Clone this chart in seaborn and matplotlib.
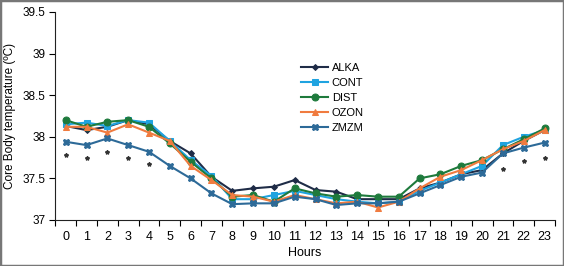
import pandas as pd
import numpy as np
import matplotlib.pyplot as plt
import seaborn as sns
from matplotlib.patches import Rectangle
from matplotlib.ticker import FixedLocator

# datos
hours = list(range(24))
alka = [38.13, 38.08, 38.12, 38.20, 38.15, 37.95, 37.80, 37.52, 37.35, 37.38, 37.40, 37.48,
        37.36, 37.34, 37.25, 37.25, 37.25, 37.38, 37.45, 37.55, 37.60, 37.80, 37.95, 38.08]
cont = [38.15, 38.17, 38.13, 38.20, 38.17, 37.95, 37.72, 37.53, 37.25, 37.25, 37.30, 37.35,
        37.30, 37.25, 37.22, 37.20, 37.22, 37.35, 37.45, 37.55, 37.65, 37.90, 38.00, 38.08]
dist = [38.20, 38.12, 38.18, 38.20, 38.12, 37.92, 37.70, 37.50, 37.28, 37.30, 37.22, 37.38,
        37.32, 37.28, 37.30, 37.28, 37.28, 37.50, 37.55, 37.65, 37.72, 37.85, 37.97, 38.10]
ozon = [38.12, 38.12, 38.05, 38.15, 38.05, 37.95, 37.65, 37.48, 37.30, 37.28, 37.22, 37.30,
        37.25, 37.20, 37.22, 37.15, 37.22, 37.38, 37.52, 37.60, 37.72, 37.85, 37.95, 38.08]
zmzm = [37.94, 37.90, 37.98, 37.90, 37.82, 37.65, 37.50, 37.32, 37.19, 37.20, 37.20, 37.28,
        37.25, 37.18, 37.20, 37.20, 37.22, 37.32, 37.42, 37.52, 37.57, 37.80, 37.87, 37.93]
sig_hours = [0, 1, 2, 3, 4, 21, 22, 23]
sig_vals = [37.78, 37.75, 37.82, 37.75, 37.67, 37.61, 37.71, 37.74]

groups = ['ALKA', 'CONT', 'DIST', 'OZON', 'ZMZM']
series = [alka, cont, dist, ozon, zmzm]
colores = ['#1f2c47', '#1fa3e0', '#1e7a3c', '#f07b3f', '#2d6a98']
marcadores = ['D', 's', 'o', '^', 'X']
tam = [3, 5, 5, 5, 5]

df = pd.concat([pd.DataFrame({'hour': hours, 'temp': s, 'group': g})
                for g, s in zip(groups, series)])

plt.rcParams['font.family'] = ['Liberation Sans', 'DejaVu Sans']
fig = plt.figure(figsize=(5.64, 2.66), dpi=100)
ax = fig.add_axes([0.098, 0.173, 0.886, 0.782])

for g, c, m, ms in zip(groups, colores, marcadores, tam):
    sns.lineplot(data=df[df.group == g], x='hour', y='temp', color=c, marker=m,
                 markersize=ms, markeredgecolor=c, linewidth=1.5, label=g, ax=ax)

ax.plot(sig_hours, sig_vals, linestyle='none', marker='*', color='#333333', markersize=3)

ax.set_xlim(-0.5, 23.5)
ax.set_ylim(37, 39.5)
ax.set_xticks(hours)
ax.set_xticklabels([str(h) for h in hours], fontsize=9)
ax.xaxis.set_minor_locator(FixedLocator(np.arange(-0.5, 24, 1)))
ax.tick_params(axis='x', which='major', length=0, pad=8)
ax.tick_params(axis='x', which='minor', length=4, width=0.8, direction='out')
ax.set_yticks([37, 37.5, 38, 38.5, 39, 39.5])
ax.set_yticklabels(['37', '37.5', '38', '38.5', '39', '39.5'], fontsize=8.5)
ax.tick_params(axis='y', length=4, width=0.8, direction='out', pad=3)
for s in ['top', 'right']:
    ax.spines[s].set_visible(False)
for s in ['left', 'bottom']:
    ax.spines[s].set_color('#222222')
    ax.spines[s].set_linewidth(0.8)
ax.set_xlabel('Hours', fontsize=9, labelpad=3)
ax.set_ylabel('Core Body temperature (ºC)', fontsize=8.5, labelpad=5)

ax.legend(loc='upper left', bbox_to_anchor=(0.48, 0.78), frameon=False, fontsize=8,
          handlelength=2.5, labelspacing=0.45, handletextpad=0.3, borderpad=0)

fig.patches.append(Rectangle((0, 0), 1, 1, transform=fig.transFigure, fill=False,
                             edgecolor='#777777', linewidth=2.5))
fig.savefig('out.png', dpi=100)
